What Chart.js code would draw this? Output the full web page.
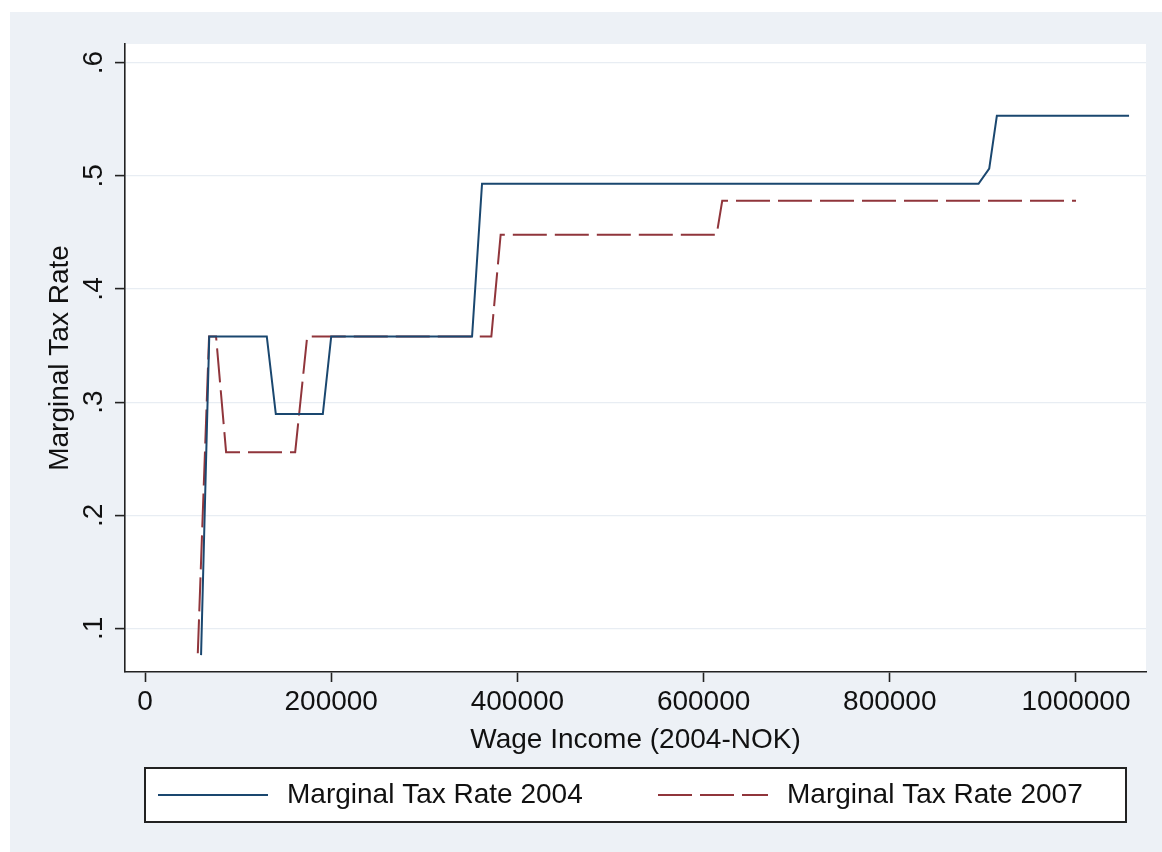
<!DOCTYPE html>
<html><head><meta charset="utf-8">
<script src="https://cdn.jsdelivr.net/npm/chart.js@4.4.0/dist/chart.umd.min.js"></script>
<style>html,body{margin:0;padding:0;background:#fff;}canvas{display:block;}</style>
</head><body>
<canvas id="c" width="1162" height="852" style="width:1162px;height:852px"></canvas>
<script>
// ---- data ----
const income2004 = [60200, 69000, 130800, 140500, 191000, 200000, 351300, 362000, 895300, 906800, 915000, 1057000];
const rate2004   = [0.0764, 0.358, 0.358, 0.2894, 0.2894, 0.358, 0.358, 0.493, 0.493, 0.5064, 0.553, 0.553];
const income2007 = [56700, 68800, 76300, 87100, 161300, 174200, 372000, 382000, 614000, 620000, 1000000];
const rate2007   = [0.078, 0.358, 0.358, 0.2558, 0.2558, 0.358, 0.358, 0.448, 0.448, 0.478, 0.478];
const seriesLabels = ['Marginal Tax Rate 2004', 'Marginal Tax Rate 2007'];
const xTickValues = [0, 200000, 400000, 600000, 800000, 1000000];
const xTickLabels = ['0', '200000', '400000', '600000', '800000', '1000000'];
const yTickValues = [0.1, 0.2, 0.3, 0.4, 0.5, 0.6];
const yTickLabels = ['.1', '.2', '.3', '.4', '.5', '.6'];
const xTitle = 'Wage Income (2004-NOK)';
const yTitle = 'Marginal Tax Rate';

const FONT = '"Liberation Sans", Arial, Helvetica, sans-serif';
const toPoints = (xs, ys) => xs.map((x, i) => ({x: x, y: ys[i]}));

const bgPlugin = {
  id: 'bg',
  beforeDraw(chart) {
    const ctx = chart.ctx, ca = chart.chartArea;
    ctx.save();
    ctx.fillStyle = '#ffffff';
    ctx.fillRect(0, 0, chart.width, chart.height);
    ctx.fillStyle = '#edf1f6';
    ctx.fillRect(10, 12, chart.width - 10, chart.height - 12);
    ctx.fillStyle = '#ffffff';
    ctx.fillRect(ca.left, ca.top, ca.right - ca.left, ca.bottom - ca.top);
    ctx.restore();
  }
};

const legendPlugin = {
  id: 'boxLegend',
  afterDraw(chart) {
    const ctx = chart.ctx, ca = chart.chartArea, xs = chart.scales.x;
    const left = ca.left + 20, right = ca.right - 20, top = xs.bottom + 7, h = 54;
    ctx.save();
    ctx.fillStyle = '#ffffff';
    ctx.fillRect(left, top, right - left, h);
    ctx.strokeStyle = '#222';
    ctx.lineWidth = 2;
    ctx.strokeRect(left, top, right - left, h);
    const cy = top + h / 2;
    const itemX = [left + 13, left + 513];
    chart.data.datasets.forEach((ds, i) => {
      ctx.beginPath();
      ctx.setLineDash(ds.borderDash || []);
      ctx.strokeStyle = ds.borderColor;
      ctx.lineWidth = ds.borderWidth;
      ctx.moveTo(itemX[i], cy);
      ctx.lineTo(itemX[i] + 110, cy);
      ctx.stroke();
      ctx.setLineDash([]);
      ctx.fillStyle = '#111';
      ctx.font = '28px ' + FONT;
      ctx.textBaseline = 'middle';
      ctx.textAlign = 'left';
      ctx.fillText(ds.label, itemX[i] + 129, cy);
    });
    ctx.restore();
  }
};

new Chart(document.getElementById('c'), {
  type: 'line',
  data: {
    datasets: [
      {
        label: seriesLabels[0],
        data: toPoints(income2004, rate2004),
        borderColor: '#1a476f',
        borderWidth: 2,
        pointRadius: 0,
        tension: 0,
        fill: false
      },
      {
        label: seriesLabels[1],
        data: toPoints(income2007, rate2007),
        borderColor: '#90353b',
        borderWidth: 2,
        borderDash: [34, 8],
        pointRadius: 0,
        tension: 0,
        fill: false
      }
    ]
  },
  options: {
    responsive: false,
    animation: false,
    devicePixelRatio: 1,
    layout: { padding: { top: 44, right: 16, bottom: 91, left: 39 } },
    plugins: {
      legend: { display: false },
      tooltip: { enabled: false }
    },
    scales: {
      x: {
        type: 'linear',
        min: -21500,
        max: 1075200,
        afterBuildTicks(scale) { scale.ticks = xTickValues.map(v => ({value: v})); },
        afterFit(scale) { scale.height = 89; },
        ticks: {
          color: '#111',
          font: { family: FONT, size: 28 },
          padding: 3,
          maxRotation: 0,
          minRotation: 0,
          callback: (v) => xTickLabels[xTickValues.indexOf(v)]
        },
        grid: { drawOnChartArea: false, drawTicks: true, tickLength: 10, tickColor: '#222', tickWidth: 1.6 },
        border: { display: true, color: '#222', width: 1.6 },
        title: { display: true, text: xTitle, color: '#111', font: { family: FONT, size: 28 }, padding: { top: 4, bottom: 4 } }
      },
      y: {
        type: 'linear',
        min: 0.0615,
        max: 0.6165,
        afterBuildTicks(scale) { scale.ticks = yTickValues.map(v => ({value: v})); },
        afterFit(scale) { scale.width = 86; },
        ticks: {
          color: '#111',
          font: { family: FONT, size: 28 },
          padding: 9,
          minRotation: 90,
          maxRotation: 90,
          crossAlign: 'center',
          callback: (v) => yTickLabels[yTickValues.indexOf(v)]
        },
        grid: { drawOnChartArea: true, color: '#e8edf3', lineWidth: 1.2, drawTicks: true, tickLength: 10, tickColor: '#222', tickWidth: 1.6 },
        border: { display: true, color: '#222', width: 1.6 },
        title: { display: true, text: yTitle, color: '#111', font: { family: FONT, size: 28 }, padding: { top: 4, bottom: 4 } }
      }
    }
  },
  plugins: [bgPlugin, legendPlugin]
});
</script>
</body></html>
